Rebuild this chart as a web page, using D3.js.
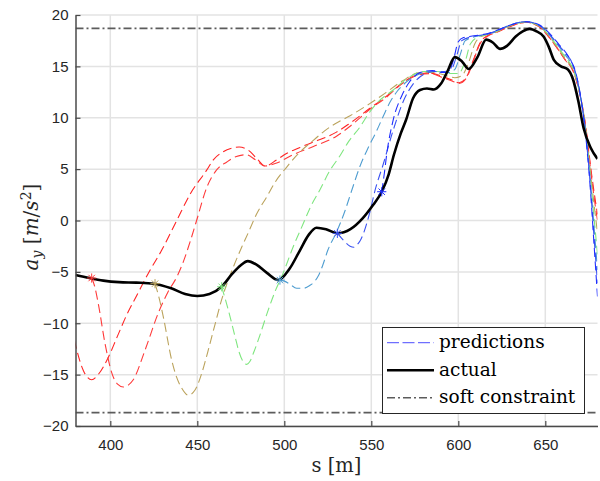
<!DOCTYPE html>
<html>
<head>
<meta charset="utf-8">
<script src="https://cdn.jsdelivr.net/npm/d3@7"></script>
<style>
  html, body { margin: 0; padding: 0; background: #fff; }
  svg { display: block; }
</style>
</head>
<body>
<svg id="chart" width="600" height="481"></svg>
<script>
// ---- axis settings ----
const xDomain = [380, 680];
const yDomain = [-20, 20];
const xTicks = [400, 450, 500, 550, 600, 650];
const yTicks = [-20, -15, -10, -5, 0, 5, 10, 15, 20];
const softLimit = 18.7;

// ---- measured lateral acceleration [s, a_y] ----
const actual = [
  [380,-5.3],[388,-5.6],[396,-5.85],[405,-6.0],[415,-6.05],[425,-6.15],[435,-6.6],
  [443,-7.15],[450,-7.35],[457,-7.15],[464,-6.45],[470,-5.2],[475,-4.35],[479,-3.95],
  [484,-4.3],[490,-5.1],[496.5,-5.8],[503,-4.7],[509,-2.9],[514,-1.4],[518.5,-0.7],
  [524,-0.85],[530.5,-1.25],[538,-0.85],[545,0.2],[551,1.5],[556,2.8],[560,4.5],
  [563,6.4],[567,8.5],[570,9.8],[574,11.9],[578,12.7],[582,12.85],[586,12.75],
  [590,13.3],[594,14.6],[598,15.9],[602,15.5],[606,14.75],[611,15.9],[616,17.6],
  [620,17.3],[624,16.7],[628,17.0],[633,17.9],[637,18.4],[641,18.65],[645,18.4],
  [649,17.9],[652,16.9],[655,15.6],[659,15.0],[663,14.7],[666,13.7],[669,11.6],
  [672,9.0],[676,7.1],[680,6.0]
];

// ---- predicted trajectories, each starting from a point on the measured curve ----
const predA = [
  [371,-5.2],[375,-7.8],[380,-12.1],[384.5,-14.6],[389.3,-15.5],[393,-15.0],[398.9,-13.3],
  [404,-11.3],[409.4,-9.2],[415.5,-7.2],[421.8,-5.15],[429.5,-2.9],[438.2,0.0],[446,2.6],
  [455.4,4.9],[459.2,5.9],[464.9,6.7],[470,7.05],[474,7.15],[479.3,6.85],[484.1,6.05],
  [488.9,5.3],[495.6,5.9],[501,6.5],[509,7.1],[516,7.6],[522.4,8.0],[530,8.6],[538,9.5],
  [549,10.9],[558,12.0],[568,13.4],[578,14.3],[584,14.35],[591,14.0],[596,13.7],
  [600.5,13.4],[604.8,14.0],[608.6,15.6],[612.5,17.3],[617,18.0],[622,18.35],[628,18.8],
  [635.5,19.2],[639.3,19.3],[643,19.15],[647,18.8],[651,18.1],[654.6,17.3],[658,16.5],
  [662,15.5],[665,14.9],[667,14.1],[669,12.9],[671,11.4],[672.5,10.0],[674,8.2],
  [676,5.3],[678,2.8],[680,0.6]
];
const predB = [
  [389.3,-5.6],[391,-6.4],[393.1,-8.1],[397,-12.0],[400.8,-14.8],[404,-15.9],[407.5,-16.2],
  [410.5,-16.0],[413.2,-15.5],[420,-12.6],[427.6,-9.0],[433,-7.0],[438.2,-5.5],[442,-4.0],
  [446,-2.0],[449.6,0.0],[455.4,3.2],[461,4.9],[467,5.7],[472,6.2],[478,6.4],[483.5,5.9],
  [488.9,5.3],[495.6,5.6],[505,6.4],[516.7,7.2],[530,8.2],[538,9.2],[549,10.8],[558,11.9],
  [568,13.35],[578,14.2],[584,14.3],[591,13.9],[596,13.6],[600.5,13.35],[604.8,13.9],
  [608.6,15.5],[612.5,17.2],[617,17.95],[622,18.3],[628,18.75],[635.5,19.2],[639.3,19.3],
  [643,19.15],[647,18.8],[651,18.1],[654.6,17.3],[658,16.5],[662,15.5],[665,14.9],
  [667,14.1],[669,12.9],[671,11.3],[672.5,9.9],[674,8.0],[676,5.0],[678,2.3],[680,0.0]
];
const predC = [
  [425.7,-6.15],[428,-7.5],[430.5,-9.4],[435.3,-13.6],[438,-15.2],[441,-16.3],[444.8,-17.0],
  [448.7,-16.5],[452.5,-14.9],[456,-12.8],[460.2,-10.1],[464,-7.7],[467.8,-5.8],[471,-4.4],
  [475.5,-2.6],[479,-1.3],[484,0.6],[489.9,2.3],[495,3.8],[501.4,5.2],[508,6.5],[516.7,7.8],
  [523,8.7],[529,9.4],[537.8,10.2],[549.3,11.4],[558,12.4],[568,13.6],[578,14.4],[586,14.4],
  [593,14.1],[598,13.9],[602,14.1],[606,15.4],[609.5,17.2],[613,17.9],[617,18.1],[622,18.4],
  [628,18.85],[635.5,19.25],[639.3,19.35],[643,19.2],[647,18.85],[651,18.2],[654.6,17.4],
  [658,16.6],[662,15.6],[665,15.0],[667,14.2],[669,13.0],[671,11.4],[672.5,9.9],[674,7.8],
  [676,4.6],[678,1.6],[680,-1.2]
];
const predD = [
  [464,-6.45],[466,-7.6],[467.8,-8.7],[471.7,-11.3],[474,-12.8],[476.4,-13.75],[478.4,-14.0],
  [480.3,-13.7],[482.5,-12.8],[485.1,-11.6],[490.8,-8.7],[494.7,-6.9],[499.4,-5.1],[505,-2.6],
  [510.9,-0.3],[515,1.3],[520.5,3.0],[526,4.8],[532,6.3],[537,7.7],[543.5,9.1],[548,10.3],
  [553.1,11.4],[562.6,12.7],[572.2,14.0],[580,14.5],[588,14.5],[595,14.3],[600,14.3],
  [604,15.5],[607,17.2],[612,17.9],[617,18.1],[622,18.4],[628,18.85],[635.5,19.25],
  [639.3,19.35],[643,19.2],[647,18.9],[651,18.25],[654.6,17.5],[658,16.7],[662,15.8],
  [665,15.1],[667,14.3],[669,13.0],[671,11.3],[672.5,9.7],[674,7.5],[676,4.0],[678,0.3],
  [680,-3.3]
];
const predE = [
  [497.5,-5.8],[500,-5.9],[503.3,-6.2],[507.1,-6.6],[511,-6.6],[514.8,-6.3],[517,-6.0],
  [519.5,-5.4],[522,-4.4],[525,-2.9],[530.1,-1.1],[535,1.0],[538.5,2.8],[544,5.5],[548,7.0],
  [553,8.7],[557,10.2],[560.7,11.5],[565,12.6],[570.3,13.5],[578.5,14.3],[586,14.5],
  [594.3,14.4],[598,14.7],[601,16.1],[604,17.5],[610,17.9],[617,18.15],[622,18.45],
  [628,18.9],[635.5,19.3],[639.3,19.35],[643,19.25],[647,18.9],[651,18.3],[654.6,17.6],
  [658,16.9],[662,16.0],[665,15.3],[667,14.5],[669,13.1],[671,11.3],[672.5,9.6],[674,7.3],
  [676,3.6],[678,-0.6],[680,-4.8]
];
const predF = [
  [530.5,-1.25],[533.9,-1.9],[537.8,-2.5],[540,-2.6],[541.6,-2.4],[543.5,-2.0],[545.4,-1.3],
  [549.3,0.9],[552.1,2.9],[556.9,5.5],[562.6,8.8],[568.4,11.6],[574.1,13.3],[580,14.2],
  [586,14.5],[592,14.5],[596,14.7],[599,16.0],[602,17.5],[608,17.9],[617,18.15],[622,18.45],
  [628,18.9],[635.5,19.3],[639.3,19.35],[643,19.25],[647,18.95],[651,18.4],[654.6,17.7],
  [658,17.0],[662,16.2],[665,15.5],[667,14.6],[669,13.2],[671,11.3],[672.5,9.5],[674,7.1],
  [676,3.2],[678,-1.6],[680,-6.1]
];
const predG = [
  [556,2.8],[557.5,4.6],[558.9,6.5],[562.6,9.8],[567.4,12.1],[572,13.5],[578,14.4],
  [585,14.6],[591,14.4],[594.3,14.4],[597,15.5],[600,17.4],[603,17.8],[608,17.95],
  [617,18.2],[622,18.5],[628,18.9],[635.5,19.3],[639.3,19.35],[643,19.25],[647,19.0],
  [651,18.45],[654.6,17.8],[658,17.1],[662,16.3],[664.5,15.6],[667,14.7],[669,13.3],
  [671,11.3],[672.5,9.4],[674,6.9],[676,2.8],[678,-2.3],[680,-7.4]
];
const predictions = [predA, predB, predC, predD, predE, predF, predG];
const predColors = ["#ff2424", "#ff3a3a", "#bba35c", "#7fe67f", "#4f9dd0", "#3a52f2", "#1f2eff"];

const legendItems = ["predictions", "actual", "soft constraint"];

// ---- layout ----
const svg = d3.select("#chart");
const x = d3.scaleLinear().domain(xDomain).range([75.5, 597.5]);
const y = d3.scaleLinear().domain(yDomain).range([426, 15]);
const [x0, x1] = x.range();
const [y0, y1] = y.range();

svg.append("defs").append("clipPath").attr("id", "plotClip")
  .append("rect").attr("x", x0).attr("y", y1).attr("width", x1 - x0).attr("height", y0 - y1);

// grid
const grid = svg.append("g").attr("stroke", "#e3e3e3").attr("stroke-width", 1.5);
grid.selectAll("line.gx").data(xTicks).join("line")
  .attr("x1", d => x(d)).attr("x2", d => x(d)).attr("y1", y0).attr("y2", y1);
grid.selectAll("line.gy").data(yTicks).join("line")
  .attr("y1", d => y(d)).attr("y2", d => y(d)).attr("x1", x0).attr("x2", x1);

const plot = svg.append("g").attr("clip-path", "url(#plotClip)");

// soft constraint bounds
plot.selectAll("line.soft").data([softLimit, -softLimit]).join("line")
  .attr("x1", x0).attr("x2", x1).attr("y1", d => y(d)).attr("y2", d => y(d))
  .attr("stroke", "#5c5c5c").attr("stroke-width", 1.6)
  .attr("stroke-dasharray", "8,3,2,3");

const line = d3.line().x(d => x(d[0])).y(d => y(d[1])).curve(d3.curveMonotoneX);

// predictions
plot.selectAll("path.pred").data(predictions).join("path")
  .attr("d", line)
  .attr("fill", "none")
  .attr("stroke", (d, i) => predColors[i])
  .attr("stroke-width", 1.1)
  .attr("stroke-dasharray", "9,4.5");

// actual
plot.append("path").datum(actual)
  .attr("d", line)
  .attr("fill", "none")
  .attr("stroke", "#000")
  .attr("stroke-width", 2.6)
  .attr("stroke-linejoin", "round");

// asterisk markers at the start of each prediction
const r = 4.6, k = 0.7 * r;
const star = `M${-r},0H${r}M0,${-r}V${r}M${-k},${-k}L${k},${k}M${-k},${k}L${k},${-k}`;
plot.selectAll("path.star").data(predictions).join("path")
  .attr("transform", d => `translate(${x(d[0][0])},${y(d[0][1])})`)
  .attr("d", star)
  .attr("fill", "none")
  .attr("stroke", (d, i) => predColors[i])
  .attr("stroke-width", 1);

// axes
const tickFont = "'Liberation Sans', Arial, Helvetica, sans-serif";
const gx = svg.append("g").attr("transform", `translate(0,${y0})`)
  .call(d3.axisBottom(x).tickValues(xTicks).tickSize(-5).tickSizeOuter(0).tickPadding(13));
const gy = svg.append("g").attr("transform", `translate(${x0},0)`)
  .call(d3.axisLeft(y).tickValues(yTicks).tickSize(-5).tickSizeOuter(0).tickPadding(7));
[gx, gy].forEach(g => {
  g.select(".domain").attr("stroke", "#4a4a4a").attr("stroke-width", 1.5);
  g.selectAll(".tick line").attr("stroke", "#4a4a4a").attr("stroke-width", 1.2);
  g.selectAll(".tick text").attr("fill", "#262626")
    .style("font-family", tickFont).style("font-size", "15px");
});

// axis titles
const serif = "'DejaVu Serif', 'Liberation Serif', serif";
svg.append("text")
  .attr("x", (x0 + x1) / 2).attr("y", 472)
  .attr("text-anchor", "middle")
  .style("font-family", serif).style("font-size", "19.5px").attr("fill", "#262626")
  .text("s [m]");

const yl = svg.append("text")
  .attr("transform", `translate(38,227) rotate(-90)`)
  .attr("text-anchor", "middle")
  .style("font-family", serif).style("font-size", "20px").attr("fill", "#262626");
yl.append("tspan").style("font-style", "italic").text("a");
yl.append("tspan").style("font-style", "italic").style("font-size", "14px").attr("dy", 4).text("y");
yl.append("tspan").attr("dy", -4).text(" [");
yl.append("tspan").style("font-style", "italic").text("m");
yl.append("tspan").text("/");
yl.append("tspan").style("font-style", "italic").text("s");
yl.append("tspan").style("font-size", "14px").attr("dy", -7).text("2");
yl.append("tspan").attr("dy", 7).text("]");

// legend
const lg = svg.append("g");
lg.append("rect").attr("x", 382.5).attr("y", 327.5).attr("width", 202).attr("height", 86)
  .attr("fill", "#fff").attr("stroke", "#262626").attr("stroke-width", 1);
const rows = [342.7, 370.3, 397.7];
const legStyles = [
  { stroke: "#6f6fff", width: 1.2, dash: "12,3.5" },
  { stroke: "#000", width: 2.6, dash: null },
  { stroke: "#5c5c5c", width: 1.4, dash: "8,3,2,3" }
];
legendItems.forEach((t, i) => {
  lg.append("line").attr("x1", 387).attr("x2", 434).attr("y1", rows[i]).attr("y2", rows[i])
    .attr("stroke", legStyles[i].stroke).attr("stroke-width", legStyles[i].width)
    .attr("stroke-dasharray", legStyles[i].dash);
  lg.append("text").attr("x", 439).attr("y", rows[i] + 5.5)
    .style("font-family", serif).style("font-size", "18.5px").attr("fill", "#000")
    .text(t);
});
</script>
</body>
</html>
